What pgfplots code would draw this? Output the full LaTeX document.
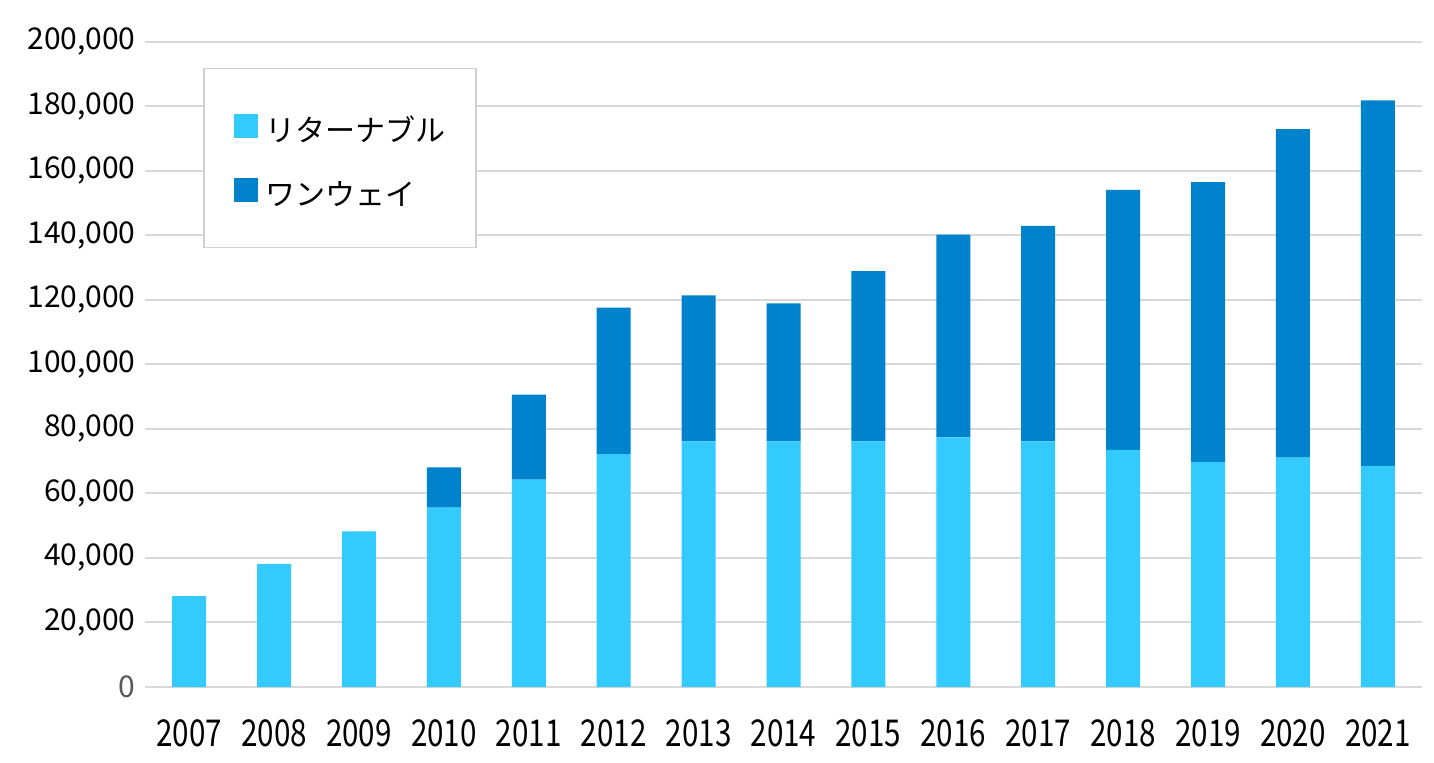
\documentclass[border=0pt]{standalone}
\usepackage{fontspec}
\setmainfont{Noto Sans CJK JP}
\usepackage{pgfplots}
\pgfplotsset{compat=1.18}
\definecolor{light}{HTML}{33CAFE}
\definecolor{dark}{HTML}{0082CC}
\definecolor{gridc}{HTML}{D9D9D9}
\definecolor{zerog}{HTML}{595959}
\definecolor{legc}{HTML}{D0D0D0}
\newcommand{\yr}[1]{\scalebox{0.8}[1]{#1}}
\begin{document}
\begin{tikzpicture}
\path[use as bounding box] (-72.5pt,-37.5pt) rectangle (644.5pt,343.5pt);
\begin{axis}[
  at={(0pt,0pt)}, anchor=south west,
  scale only axis, width=638.5pt, height=322.65pt,
  ybar stacked, bar width=17pt,
  xmin=-0.52, xmax=14.52, ymin=0, ymax=200000,
  axis line style={draw=none},
  major tick length=0pt,
  scaled y ticks=false,
  ytick={0,20000,40000,60000,80000,100000,120000,140000,160000,180000,200000},
  yticklabels={\textcolor{zerog}{0},{20,000},{40,000},{60,000},{80,000},{100,000},{120,000},{140,000},{160,000},{180,000},{200,000}},
  yticklabel style={inner sep=0pt, xshift=-4.5pt, font=\fontsize{15pt}{18pt}\selectfont},
  ymajorgrids, grid style={gridc, line width=1pt},
  xtick={0,1,2,3,4,5,6,7,8,9,10,11,12,13,14},
  xticklabels={\yr{2007},\yr{2008},\yr{2009},\yr{2010},\yr{2011},\yr{2012},\yr{2013},\yr{2014},\yr{2015},\yr{2016},\yr{2017},\yr{2018},\yr{2019},\yr{2020},\yr{2021}},
  xticklabel style={inner sep=0pt, yshift=-16pt, font=\fontsize{18.5pt}{20pt}\selectfont},
  legend image code/.code={\fill[#1] (0pt,-6pt) rectangle (12pt,6pt);},
  legend style={draw=legc, line width=0.8pt, at={(0.0454,0.9597)}, anchor=north west,
    inner xsep=15pt, inner ysep=21pt, row sep=16.5pt,
    font=\fontsize{15pt}{18pt}\selectfont,
    nodes={inner sep=0pt, text height=15.5pt, text depth=0pt},
    /tikz/every odd column/.append style={column sep=4pt}},
  legend cell align=left,
]
\addplot[fill=light, draw=none] coordinates {
(0,28200) (1,38200) (2,48200) (3,55600) (4,64300) (5,72200) (6,76100) (7,76100)
(8,76100) (9,77400) (10,76100) (11,73500) (12,69700) (13,71100) (14,68500)};
\addlegendentry{リターナブル}
\addplot[fill=dark, draw=none] coordinates {
(0,0) (1,0) (2,0) (3,12500) (4,26300) (5,45400) (6,45300) (7,42800)
(8,52800) (9,62800) (10,66800) (11,80600) (12,86800) (13,101800) (14,113300)};
\addlegendentry{ワンウェイ}
\end{axis}
\end{tikzpicture}
\end{document}
